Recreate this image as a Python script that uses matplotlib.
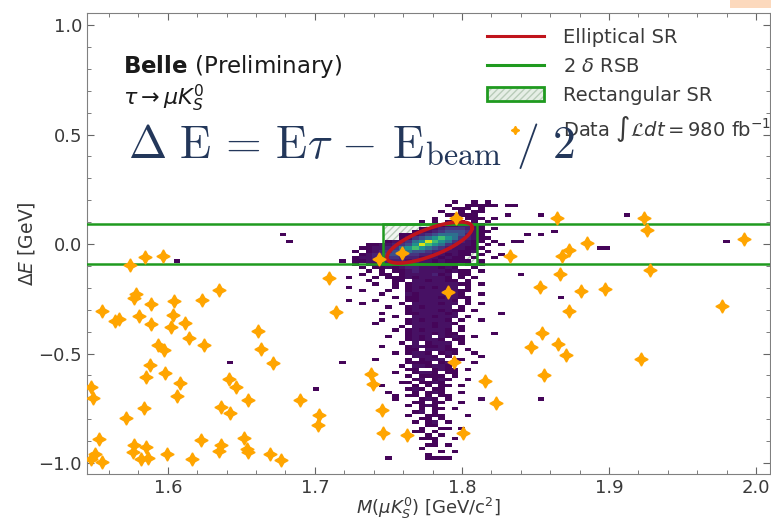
import numpy as np
import matplotlib
matplotlib.use("Agg")
import matplotlib.pyplot as plt
from matplotlib.patches import Rectangle
from matplotlib.lines import Line2D

# selected data events, M(mu K_S) [GeV/c^2] and Delta E [GeV]
data_m = [1.5846, 1.5964, 1.5744, 1.6345, 1.5782, 1.5767, 1.5887, 1.6041, 1.6229, 1.5551,
          1.5642, 1.5669, 1.5805, 1.6034, 1.5887, 1.6020, 1.6120, 1.6141, 1.5930, 1.5973,
          1.6243, 1.6610, 1.6635, 1.6712, 1.5882, 1.5850, 1.5978, 1.5476, 1.5494, 1.6080,
          1.6059, 1.6413, 1.6461, 1.6544, 1.6363, 1.6420, 1.5835, 1.5716, 1.5535, 1.5767,
          1.5762, 1.5852, 1.5818, 1.5864, 1.5505, 1.5478, 1.5551, 1.5993, 1.6163, 1.6224,
          1.6363, 1.6345, 1.6519, 1.6537, 1.6542, 1.6692, 1.6771,
          1.7594, 1.7436, 1.7095, 1.7143, 1.7907, 1.7948, 1.7379, 1.7395, 1.6898, 1.7027,
          1.7023, 1.7456, 1.7465, 1.7624, 1.8009,
          1.8644, 1.8848, 1.8730, 1.8678, 1.8327, 1.8667, 1.8531, 1.8810, 1.8973, 1.8728,
          1.8542, 1.8469, 1.8655, 1.8705, 1.8560, 1.8160, 1.8231,
          1.9240, 1.9256, 1.9279, 1.9918, 1.9766, 1.9218, 1.7959]
data_de = [-0.058, -0.056, -0.094, -0.212, -0.227, -0.247, -0.276, -0.258, -0.255, -0.306,
           -0.353, -0.343, -0.327, -0.325, -0.367, -0.379, -0.359, -0.429, -0.459, -0.485,
           -0.459, -0.399, -0.479, -0.545, -0.552, -0.609, -0.588, -0.652, -0.702, -0.636,
           -0.693, -0.617, -0.652, -0.712, -0.745, -0.770, -0.747, -0.795, -0.889, -0.917,
           -0.950, -0.929, -0.980, -0.977, -0.959, -0.980, -0.995, -0.958, -0.982, -0.894,
           -0.917, -0.947, -0.886, -0.935, -0.950, -0.961, -0.986,
           -0.043, -0.070, -0.155, -0.312, -0.218, -0.540, -0.594, -0.638, -0.712, -0.779,
           -0.826, -0.759, -0.864, -0.871, -0.864,
           0.118, 0.005, -0.026, -0.056, -0.053, -0.136, -0.194, -0.215, -0.205, -0.306,
           -0.406, -0.470, -0.458, -0.506, -0.599, -0.626, -0.727,
           0.121, 0.065, -0.118, 0.023, -0.284, -0.525, 0.121]

# signal MC histogram: bins of 0.0045 in M (1.55-2.0), 0.015 in Delta E (-1.0-0.2)
hist_m_edges = np.linspace(1.55, 2.0, 101)
hist_de_edges = np.linspace(-1.0, 0.2, 81)
core_first_col = 39  # core map starts at M = 1.7255
core_width = 22
# core map, top row (Delta E = 0.2) first; one character per bin
core_rows = [
    "...............1..1.1.",
    "..............1..11111",
    "...............111.1..",
    ".............1..1.11..",
    "..............11111...",
    "............1..1.111.1",
    "..........1.1.111.1.1.",
    "............11223321..",
    "..........1123444321.1",
    ".........122345554211.",
    ".......1123456665321..",
    ".......12456787643211.",
    ".....123467987643211.1",
    "..11223457987643221.1.",
    ".1122346787654322111..",
    "1.12345665543322112.1.",
    ".12345554433221211.1..",
    "12234443332221211.1..1",
    "112233332322121111.1..",
    "1.11212322322211.1.1..",
    ".1.1121233222121..1...",
    "..1.1.112322221211.1..",
    ".1..11.12222312.11....",
    "...1.1112122221.1.1...",
    "..1...11.2212211.1....",
    "...1..1.1222222211.1..",
    "......1.12121222.1....",
    ".1...1..1222221211....",
    "....1...212222221..1..",
    "......1.1122212211....",
    "...1....11222221.1....",
    ".1.....1.2222122.1.1..",
    ".....1..1212222.1.....",
    "........122221211.1...",
    "....1...11222212......",
    "......1..2221222.1....",
    "....1...1212221.1..1..",
    "...1....12221221......",
    ".......1.222122.1.....",
    "......1.1212221.1.....",
    "........12221211.....1",
    ".....1..1212.2121.1...",
    "........121221.11.....",
    ".......1.2.1222.1.....",
    "....1...1221121.......",
    "........11.22211.1....",
    "......1.1221.121..1...",
    ".........2221.1....1..",
    "...1....1.1222.11.....",
    "........1111.121..1...",
    ".......1.221221.......",
    "........11..1211.1....",
    "......1..1221.11......",
    "........1.1111.1......",
    ".........12.121..1....",
    ".......11.1121........",
    "....1....1.1.11.1.....",
    "........121.11........",
    ".....1...1.121..1.....",
    "......1.11.1.11.......",
    "......1...121.1....1..",
    ".........11.11..1.....",
    "........1.121.........",
    "..........1.11.1......",
    ".........12.1.........",
    "........1..111...1....",
    "..........11.1........",
    ".........1.12.1.......",
    "...........11.........",
    "..........1..11.1.....",
    ".........11.1.........",
    "...........1.1........",
    "..........111..1......",
    "............1.........",
    "...........11.1.......",
    "..........1...........",
    ".............1.1......",
    "...........1..........",
    ".....1.....1111.......",
    "......................",
]
level_counts = {".": 0, "1": 1, "2": 3, "3": 6, "4": 10, "5": 16,
                "6": 24, "7": 34, "8": 46, "9": 62}
# isolated MC entries outside the core map
extra_m = [1.8293, 1.8350, 1.8327, 1.8350, 1.8260, 1.8400, 1.8260, 1.8395, 1.8286, 1.8530,
           1.8460, 1.8530, 1.8606, 1.8680, 1.8530, 1.8930, 1.8975, 1.9138, 1.9810, 1.6780,
           1.6820, 1.6060, 1.7200, 1.6406, 1.7165, 1.7012, 1.7225, 1.7225, 1.7240, 1.8116]
extra_de = [0.174, 0.174, 0.129, 0.015, 0.000, 0.015, -0.053, -0.136, -0.314, 0.136,
            0.050, 0.043, 0.053, -0.243, -0.705, -0.015, -0.015, 0.127, 0.018, 0.047,
            0.020, -0.085, -0.085, -0.550, -0.550, -0.670, -0.198, -0.150, -0.254, -0.705]

# signal regions
rsb_de = 0.09
rect_m = (1.746, 1.810)
ell_center = (1.778, 0.007)
ell_sm, ell_sde, ell_rho = 0.029, 0.094, 0.72


def build_hist():
    ny, nx = len(hist_de_edges) - 1, len(hist_m_edges) - 1
    counts = np.zeros((ny, nx))
    for i, row in enumerate(core_rows):
        for c, ch in enumerate(row[:core_width]):
            counts[ny - 1 - i, core_first_col + c] += level_counts[ch]
    h, _, _ = np.histogram2d(extra_de, extra_m, bins=[hist_de_edges, hist_m_edges])
    return counts + h


def main():
    plt.rcParams["font.family"] = "DejaVu Sans"
    fig = plt.figure(figsize=(7.71, 5.20), dpi=100)
    ax = fig.add_axes([0.1128, 0.0885, 0.8859, 0.8865])

    counts = build_hist()
    ax.pcolormesh(hist_m_edges, hist_de_edges, np.ma.masked_equal(counts, 0),
                  cmap="viridis", vmin=0, vmax=66, zorder=2)

    green = "#1f9a1f"
    hatch_face, hatch_line = "#f2f6f2", "#b9ccb9"
    hatch = Rectangle((rect_m[0], -rsb_de), rect_m[1] - rect_m[0], 2 * rsb_de,
                      facecolor=hatch_face, edgecolor=hatch_line, hatch="/////", lw=0, zorder=1)
    edge = Rectangle((rect_m[0], -rsb_de), rect_m[1] - rect_m[0], 2 * rsb_de,
                     fill=False, edgecolor=green, lw=1.8, zorder=3)
    ax.add_patch(hatch)
    ax.add_patch(edge)
    ax.axhline(rsb_de, color=green, lw=1.8, zorder=3)
    ax.axhline(-rsb_de, color=green, lw=1.8, zorder=3)

    t = np.linspace(0, 2 * np.pi, 300)
    ex = ell_center[0] + ell_sm * np.cos(t)
    ey = ell_center[1] + ell_sde * (ell_rho * np.cos(t) + np.sqrt(1 - ell_rho ** 2) * np.sin(t))
    ax.plot(ex, ey, color="#c0141c", lw=2.6, zorder=4)

    star = (4, 1, 0)
    ax.plot(data_m, data_de, ls="none", marker=star, ms=9.5, color="#ffa500",
            mec="#ffa500", zorder=5)

    ax.set_xlim(1.545, 2.0095)
    ax.set_ylim(-1.05, 1.055)
    ax.set_xticks([1.6, 1.7, 1.8, 1.9, 2.0])
    ax.set_yticks([-1.0, -0.5, 0.0, 0.5, 1.0])
    ax.set_xticks(np.arange(1.56, 2.0, 0.02), minor=True)
    ax.set_yticks(np.arange(-1.0, 1.05, 0.1), minor=True)
    ax.tick_params(which="both", direction="in", top=True, right=True,
                   colors="#666666", labelcolor="#3a3a3a", labelsize=13)
    ax.tick_params(which="major", length=5)
    ax.tick_params(which="minor", length=3)
    for s in ax.spines.values():
        s.set_color("#808080")
    ax.set_xlabel(r"$M(\mu K_S^0)$ [GeV/c$^2$]", fontsize=13, color="#3a3a3a", labelpad=-1)
    ax.set_ylabel(r"$\Delta E$ [GeV]", fontsize=13.5, color="#3a3a3a", labelpad=1)

    ax.text(0.0527, 0.870, r"$\mathbf{Belle}$ (Preliminary)", transform=ax.transAxes,
            fontsize=16.5, color="#1a1a1a", va="baseline")
    ax.text(0.0527, 0.800, r"$\tau \rightarrow \mu K_S^0$", transform=ax.transAxes,
            fontsize=16, color="#1a1a1a", va="baseline")
    ax.text(0.060, 0.685,
            r"$\Delta\ \mathrm{E}\,=\,\mathrm{E}\tau\,-\,\mathrm{E}_{\mathrm{beam}}\ /\ 2$",
            transform=ax.transAxes, fontsize=33, color="#23375a", va="baseline",
            math_fontfamily="cm", zorder=7)

    handles = [
        Line2D([], [], color="#c0141c", lw=2.2),
        Line2D([], [], color=green, lw=2.2),
        (Rectangle((0, 0), 1, 1, facecolor="#e6eee6", edgecolor=hatch_line, hatch="/////", lw=0),
         Rectangle((0, 0), 1, 1, fill=False, edgecolor=green, lw=2.0)),
        Line2D([], [], ls="none", marker=star, ms=6, color="#ffa500"),
    ]
    labels = ["Elliptical SR", r"2 $\delta$ RSB", "Rectangular SR",
              r"Data $\int\mathcal{L}dt = 980$ fb$^{-1}$"]
    leg = ax.legend(handles, labels, loc="upper left", bbox_to_anchor=(0.586, 0.967),
                    frameon=False, fontsize=14, borderaxespad=0, borderpad=0,
                    handlelength=2.9, handletextpad=1.0, labelspacing=0.5)
    for txt in leg.get_texts():
        txt.set_color("#3a3a3a")
    leg.set_zorder(6)

    # slide corner
    fig.patches.append(Rectangle((0.947, 0.984), 0.053, 0.016, transform=fig.transFigure,
                                 facecolor="#fcd9bd", edgecolor="none"))

    fig.savefig("out.png", dpi=100)
    plt.close(fig)


if __name__ == "__main__":
    main()
